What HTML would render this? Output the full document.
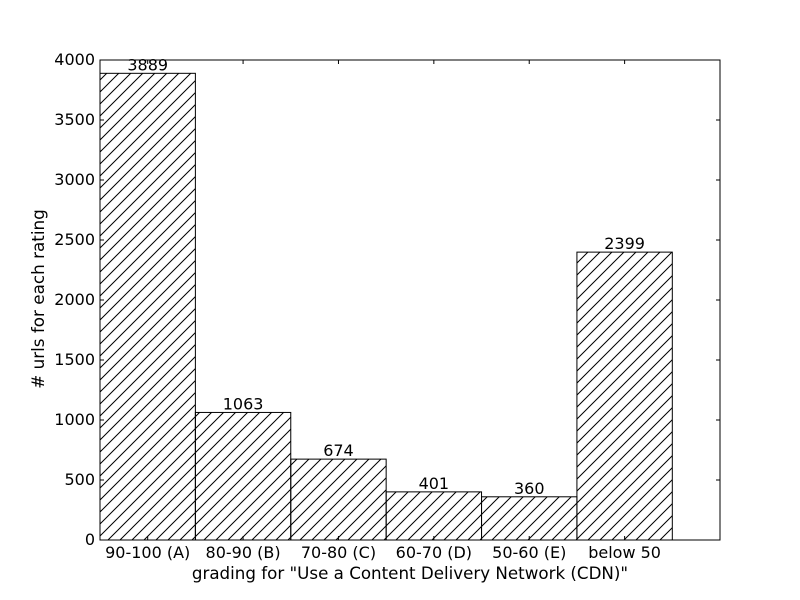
<!DOCTYPE html>
<html><head><meta charset="utf-8"><style>body{margin:0;background:#fff}svg{display:block;font-family:"DejaVu Sans","Liberation Sans",sans-serif}</style></head>
<body>
<svg id="c" width="800" height="600">
<defs><pattern id="h" patternUnits="userSpaceOnUse" width="12" height="12"><path d="M-3,3 L3,-3 M0,12 L12,0 M9,15 L15,9" stroke="#000" stroke-width="1"/></pattern></defs>
</svg>
<script>
const categories=["90-100 (A)","80-90 (B)","70-80 (C)","60-70 (D)","50-60 (E)","below 50"];
const values=[3889,1063,674,401,360,2399];
const yTicks=[0,500,1000,1500,2000,2500,3000,3500,4000];
const L=100,R=720,T=60,B=540,xMax=6.5,yMax=4000;
const sx=v=>L+(R-L)*v/xMax, sy=v=>B-(B-T)*v/yMax;
const s=document.getElementById('c'),NS="http://www.w3.org/2000/svg";
function mk(t,a,txt){const e=document.createElementNS(NS,t);for(const k in a)e.setAttribute(k,a[k]);if(txt!=null)e.textContent=txt;s.appendChild(e);return e;}
values.forEach((v,i)=>{
 const r=mk('rect',{x:sx(i),y:sy(v),width:sx(i+1)-sx(i),height:B-sy(v),fill:'url(#h)',stroke:'#000','stroke-width':1});
 
 
 const t=mk('text',{x:sx(i+0.5),y:sy(v)-3,'text-anchor':'middle','font-size':16},v);
 
 
 const lx=mk('text',{x:sx(i+0.5),y:B+18,'text-anchor':'middle','font-size':16},categories[i]);
 
 
 mk('line',{x1:sx(i+0.5),x2:sx(i+0.5),y1:B,y2:B-4,stroke:'#000'});
 mk('line',{x1:sx(i+0.5),x2:sx(i+0.5),y1:T,y2:T+4,stroke:'#000'});
});
yTicks.forEach(v=>{
 const t=mk('text',{x:L-5,y:sy(v)+5,'text-anchor':'end','font-size':16},v);
 
 
 mk('line',{x1:L,x2:L+4,y1:sy(v),y2:sy(v),stroke:'#000'});
 mk('line',{x1:R,x2:R-4,y1:sy(v),y2:sy(v),stroke:'#000'});
});
const f=mk('rect',{x:L,y:T,width:R-L,height:B-T,fill:'none',stroke:'#000','stroke-width':1});


const xt=mk('text',{x:(L+R)/2,y:579,'text-anchor':'middle','font-size':16.7},'grading for "Use a Content Delivery Network (CDN)"');


const yt=mk('text',{x:44,y:299,'text-anchor':'middle','font-size':16.8,transform:'rotate(-90 44 299)'},'# urls for each rating');


</script>
</body></html>
